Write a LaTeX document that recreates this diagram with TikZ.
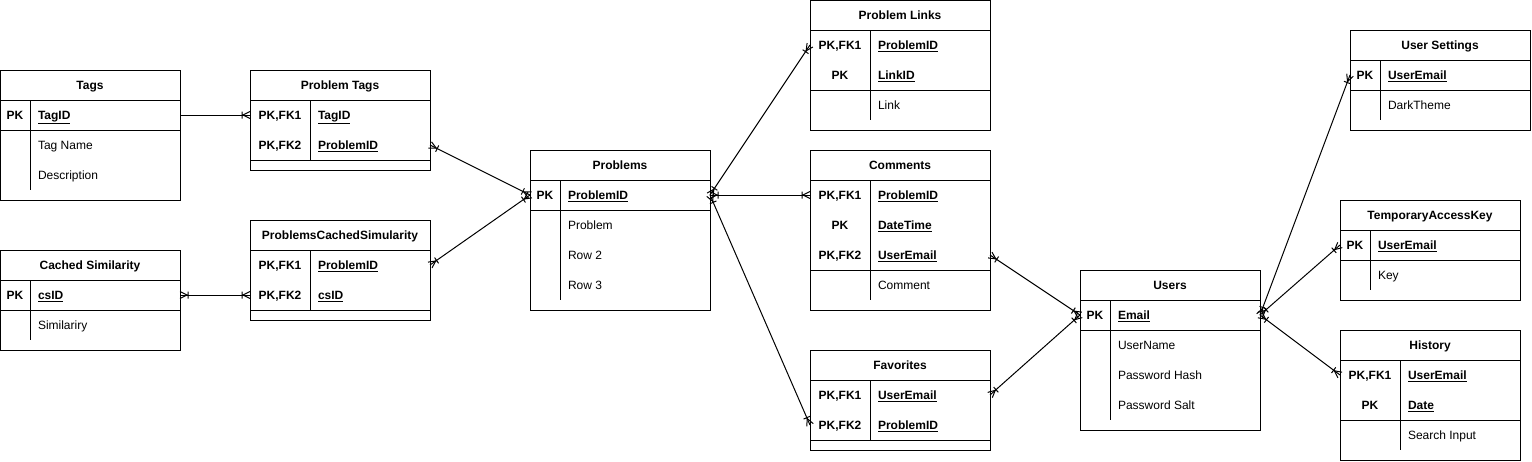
\documentclass[tikz,border=0pt]{standalone}
\usepackage{fontspec}
\setmainfont{Liberation Sans}

% crow's foot with a bar (one or many)
\pgfdeclarearrow{
  name = crowone,
  setup code = {
    \pgfarrowssettipend{0pt}
    \pgfarrowssetlineend{0pt}
    \pgfarrowssetbackend{-9pt}
    \pgfarrowsupperhullpoint{0pt}{3.5pt}
    \pgfarrowsupperhullpoint{-9pt}{3.5pt}
  },
  drawing code = {
    \pgfpathmoveto{\pgfqpoint{0pt}{3.5pt}}
    \pgfpathlineto{\pgfqpoint{-7pt}{0pt}}
    \pgfpathlineto{\pgfqpoint{0pt}{-3.5pt}}
    \pgfpathmoveto{\pgfqpoint{-8pt}{3.5pt}}
    \pgfpathlineto{\pgfqpoint{-8pt}{-3.5pt}}
    \pgfusepathqstroke
  }
}

\tikzset{
  cell/.style={inner sep=0pt, outer sep=0pt, text height=8.6pt, text depth=0pt,
    font=\fontsize{12}{14}\selectfont},
  tblhead/.style={cell, font=\fontsize{12}{14}\selectfont\bfseries},
  keycell/.style={cell, font=\fontsize{12}{14}\selectfont\bfseries},
  fieldcell/.style={cell, anchor=west},
  rowcell/.style={inner sep=0pt, outer sep=0pt, minimum width=180pt, minimum height=30pt},
  rel/.style={{crowone}-{crowone}},
}

% #1 name, #2 top left, #3 key column width, #4 title, #5 key rows, #6 other rows
\newcommand{\ertable}[6]{%
  \begin{scope}[shift={#2}]
    \node[tblhead] (#1) at (90,15) {#4};
    \gdef\nk{0}\gdef\na{0}%
    \foreach \k/\f [count=\i] in {#5} {
      \node[rowcell] (#1-k\i) at (90,15+30*\i) {};
      \node[keycell] at (#3/2,15+30*\i) {\k};
      \node[fieldcell] at (#3+8,15+30*\i) {\textbf{\underline{\f}}};
      \xdef\nk{\i}
    }
    \foreach \f [count=\j] in {#6} {
      \node[rowcell] (#1-a\j) at (90,{15+30*(\nk+\j)}) {};
      \node[fieldcell] at (#3+8,{15+30*(\nk+\j)}) {\f};
      \xdef\na{\j}
    }
    \draw (0,0) rectangle (180,{40+30*(\nk+\na)});
    \draw (0,30) -- (180,30);
    \draw (0,{30+30*\nk}) -- (180,{30+30*\nk});
    \draw (#3,30) -- (#3,{30+30*(\nk+\na)});
  \end{scope}}

\begin{document}
\begin{tikzpicture}[x=1pt, y=-1pt, line width=1pt]
  \useasboundingbox (0,0) rectangle (1532,461);

  \ertable{tags}{(0,70)}{30}{Tags}{PK/TagID}{Tag Name,Description}
  \ertable{ptags}{(250,70)}{60}{Problem Tags}{{PK,FK1}/TagID,{PK,FK2}/ProblemID}{}
  \ertable{cached}{(0,250)}{30}{Cached Similarity}{PK/csID}{Similariry}
  \ertable{pcs}{(250,220)}{60}{ProblemsCachedSimularity}{{PK,FK1}/ProblemID,{PK,FK2}/csID}{}
  \ertable{problems}{(530,150)}{30}{Problems}{PK/ProblemID}{Problem,Row 2,Row 3}
  \ertable{plinks}{(810,0)}{60}{Problem Links}{{PK,FK1}/ProblemID,PK/LinkID}{Link}
  \ertable{comments}{(810,150)}{60}{Comments}{{PK,FK1}/ProblemID,PK/DateTime,{PK,FK2}/UserEmail}{Comment}
  \ertable{favorites}{(810,350)}{60}{Favorites}{{PK,FK1}/UserEmail,{PK,FK2}/ProblemID}{}
  \ertable{users}{(1080,270)}{30}{Users}{PK/Email}{UserName,Password Hash,Password Salt}
  \ertable{usettings}{(1350,30)}{30}{User Settings}{PK/UserEmail}{DarkTheme}
  \ertable{tak}{(1340,200)}{30}{TemporaryAccessKey}{PK/UserEmail}{Key}
  \ertable{history}{(1340,330)}{60}{History}{{PK,FK1}/UserEmail,PK/Date}{Search Input}

  % relations
  \draw[-{crowone}] (tags-k1.east) -- (ptags-k1.west);
  \draw[rel] (cached-k1.east) -- (pcs-k2.west);
  \draw[rel] (ptags-k2.east) -- (problems-k1.west);
  \draw[rel] (pcs-k1.east) -- (problems-k1.west);
  \draw[rel] (problems-k1.east) -- (plinks-k1.west);
  \draw[rel] (problems-k1.east) -- (comments-k1.west);
  \draw[rel] (problems-k1.east) -- (favorites-k2.west);
  \draw[rel] (comments-k3.east) -- (users-k1.west);
  \draw[rel] (favorites-k1.east) -- (users-k1.west);
  \draw[rel] (users-k1.east) -- (usettings-k1.west);
  \draw[rel] (users-k1.east) -- (tak-k1.west);
  \draw[rel] (users-k1.east) -- (history-k1.west);
\end{tikzpicture}
\end{document}
